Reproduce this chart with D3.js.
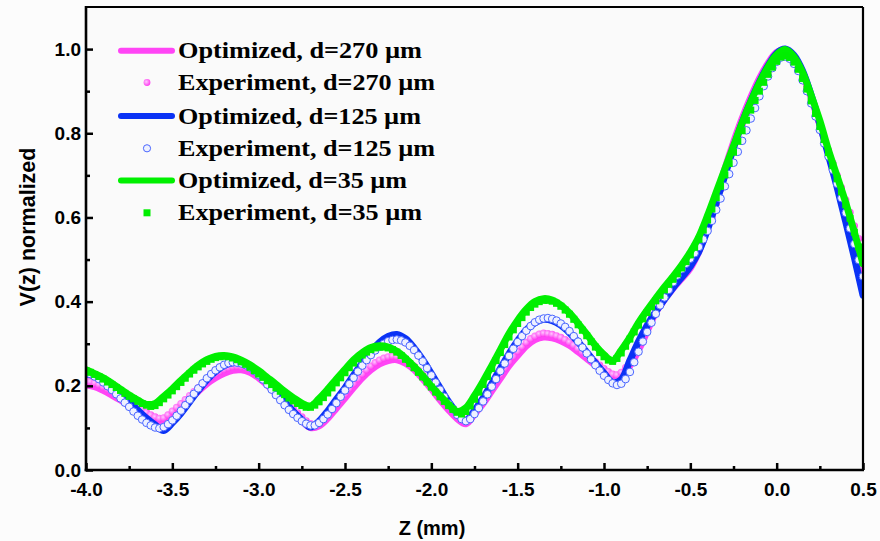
<!DOCTYPE html>
<html>
<head>
<meta charset="utf-8">
<script src="https://cdn.jsdelivr.net/npm/d3@7/dist/d3.min.js"></script>
<style>
  html, body { margin: 0; padding: 0; background: #fcfcfc; }
  svg { display: block; }
</style>
</head>
<body>
<script>
// ---------- data ----------
// optimized curves, sampled every 0.05 mm from -4.0 to 0.5
const optPink = [
  0.202,0.198,0.189,0.178,0.166,0.153,0.140,0.128,0.118,0.116,
  0.132,0.149,0.168,0.187,0.205,0.219,0.230,0.237,0.238,0.232,
  0.219,0.202,0.181,0.159,0.137,0.117,0.101,0.105,0.123,0.147,
  0.171,0.196,0.219,0.238,0.252,0.260,0.262,0.254,0.239,0.217,
  0.193,0.167,0.143,0.122,0.110,0.133,0.158,0.188,0.218,0.248,
  0.272,0.295,0.310,0.316,0.314,0.307,0.296,0.281,0.265,0.249,
  0.234,0.222,0.228,0.248,0.285,0.330,0.375,0.405,0.432,0.455,
  0.480,0.520,0.578,0.645,0.715,0.778,0.835,0.885,0.930,0.966,
  0.992,0.998,0.980,0.940,0.885,0.820,0.755,0.690,0.625,0.555,
  0.475
];
const optBlue = [
  0.228,0.224,0.214,0.199,0.182,0.162,0.142,0.123,0.107,0.094,
  0.112,0.135,0.162,0.189,0.214,0.234,0.248,0.255,0.253,0.244,
  0.229,0.209,0.186,0.162,0.139,0.119,0.102,0.116,0.140,0.168,
  0.195,0.225,0.254,0.281,0.303,0.317,0.322,0.312,0.290,0.262,
  0.229,0.195,0.162,0.135,0.118,0.141,0.171,0.205,0.241,0.276,
  0.307,0.333,0.350,0.358,0.355,0.344,0.326,0.304,0.280,0.254,
  0.230,0.208,0.215,0.260,0.305,0.343,0.376,0.405,0.433,0.458,
  0.484,0.520,0.572,0.635,0.700,0.765,0.825,0.876,0.922,0.960,
  0.990,1.000,0.985,0.948,0.890,0.822,0.748,0.672,0.590,0.505,
  0.415
];
const optGreen = [
  0.238,0.229,0.219,0.206,0.192,0.178,0.166,0.156,0.158,0.175,
  0.193,0.213,0.232,0.249,0.262,0.270,0.272,0.269,0.261,0.250,
  0.236,0.220,0.204,0.187,0.172,0.159,0.152,0.170,0.192,0.216,
  0.239,0.262,0.279,0.291,0.295,0.292,0.282,0.266,0.246,0.224,
  0.199,0.177,0.156,0.139,0.148,0.177,0.211,0.248,0.286,0.324,
  0.356,0.382,0.400,0.407,0.404,0.392,0.373,0.349,0.323,0.296,
  0.274,0.260,0.285,0.315,0.350,0.380,0.408,0.435,0.460,0.487,
  0.518,0.555,0.605,0.660,0.715,0.770,0.825,0.875,0.920,0.958,
  0.987,0.999,0.982,0.945,0.890,0.830,0.760,0.698,0.635,0.565,
  0.490
];

// measured points, every 0.025 mm from -4.0 to 0.5
const expPink = [
  0.212,0.210,0.207,0.203,0.198,0.193,0.187,0.181,0.175,0.168,
  0.162,0.155,0.149,0.143,0.137,0.131,0.126,0.123,0.124,0.131,
  0.140,0.149,0.158,0.167,0.177,0.186,0.196,0.205,0.214,0.221,
  0.228,0.234,0.239,0.243,0.246,0.247,0.246,0.244,0.240,0.235,
  0.228,0.220,0.211,0.201,0.190,0.179,0.168,0.157,0.146,0.136,
  0.126,0.117,0.110,0.106,0.109,0.119,0.130,0.143,0.156,0.168,
  0.180,0.193,0.205,0.217,0.228,0.238,0.247,0.255,0.261,0.266,
  0.269,0.271,0.270,0.267,0.262,0.255,0.247,0.237,0.226,0.214,
  0.202,0.189,0.176,0.164,0.152,0.141,0.131,0.122,0.119,0.128,
  0.141,0.154,0.167,0.182,0.197,0.212,0.227,0.242,0.257,0.270,
  0.282,0.293,0.303,0.312,0.318,0.323,0.325,0.324,0.322,0.319,
  0.315,0.310,0.304,0.297,0.289,0.281,0.273,0.265,0.257,0.249,
  0.241,0.234,0.228,0.226,0.232,0.243,0.258,0.276,0.297,0.319,
  0.341,0.362,0.382,0.399,0.413,0.427,0.440,0.452,0.464,0.476,
  0.489,0.505,0.522,0.545,0.570,0.600,0.632,0.667,0.702,0.734,
  0.764,0.792,0.818,0.844,0.868,0.890,0.911,0.930,0.947,0.962,
  0.974,0.982,0.984,0.978,0.966,0.950,0.930,0.906,0.879,0.850,
  0.820,0.790,0.760,0.730,0.700,0.671,0.642,0.612,0.580,0.550,
  0.520
];
const expBlue = [
  0.230,0.228,0.222,0.216,0.208,0.199,0.190,0.180,0.170,0.160,
  0.150,0.139,0.129,0.120,0.112,0.106,0.101,0.099,0.102,0.109,
  0.118,0.129,0.141,0.154,0.167,0.181,0.194,0.206,0.218,0.228,
  0.237,0.244,0.250,0.254,0.256,0.255,0.253,0.249,0.243,0.235,
  0.226,0.215,0.203,0.191,0.178,0.166,0.154,0.143,0.133,0.124,
  0.116,0.110,0.106,0.106,0.112,0.121,0.132,0.145,0.159,0.174,
  0.189,0.204,0.219,0.234,0.248,0.261,0.273,0.284,0.293,0.300,
  0.306,0.309,0.310,0.308,0.303,0.295,0.285,0.272,0.258,0.242,
  0.225,0.208,0.191,0.174,0.158,0.144,0.131,0.121,0.116,0.121,
  0.133,0.147,0.163,0.180,0.198,0.216,0.235,0.253,0.271,0.288,
  0.304,0.318,0.331,0.342,0.351,0.357,0.360,0.361,0.359,0.355,
  0.348,0.340,0.330,0.318,0.305,0.291,0.277,0.263,0.249,0.236,
  0.224,0.214,0.206,0.202,0.205,0.216,0.233,0.256,0.281,0.305,
  0.328,0.350,0.371,0.391,0.410,0.428,0.446,0.462,0.477,0.490,
  0.502,0.515,0.530,0.548,0.568,0.592,0.618,0.645,0.674,0.703,
  0.730,0.756,0.782,0.807,0.835,0.860,0.888,0.912,0.935,0.955,
  0.970,0.980,0.982,0.977,0.965,0.948,0.926,0.900,0.871,0.840,
  0.808,0.776,0.745,0.713,0.680,0.646,0.611,0.574,0.537,0.499,
  0.460
];
const expGreen = [
  0.236,0.232,0.227,0.222,0.216,0.209,0.203,0.196,0.189,0.182,
  0.175,0.169,0.163,0.158,0.154,0.151,0.153,0.160,0.169,0.178,
  0.188,0.198,0.208,0.218,0.228,0.237,0.245,0.252,0.258,0.263,
  0.267,0.269,0.270,0.269,0.266,0.262,0.257,0.251,0.244,0.236,
  0.228,0.220,0.212,0.203,0.195,0.187,0.179,0.171,0.164,0.158,
  0.153,0.149,0.149,0.154,0.162,0.172,0.183,0.195,0.207,0.219,
  0.231,0.243,0.254,0.264,0.273,0.280,0.286,0.290,0.292,0.292,
  0.290,0.286,0.280,0.272,0.263,0.253,0.243,0.232,0.221,0.209,
  0.197,0.185,0.174,0.163,0.153,0.144,0.137,0.133,0.139,0.152,
  0.168,0.185,0.203,0.222,0.241,0.260,0.279,0.298,0.316,0.333,
  0.348,0.362,0.375,0.386,0.394,0.400,0.403,0.403,0.401,0.396,
  0.389,0.380,0.370,0.358,0.345,0.332,0.319,0.305,0.292,0.279,
  0.269,0.261,0.258,0.265,0.278,0.294,0.311,0.328,0.344,0.359,
  0.374,0.388,0.402,0.415,0.428,0.441,0.453,0.466,0.480,0.495,
  0.511,0.529,0.548,0.570,0.594,0.620,0.647,0.674,0.701,0.728,
  0.755,0.781,0.806,0.831,0.855,0.878,0.900,0.921,0.940,0.957,
  0.971,0.981,0.984,0.980,0.969,0.952,0.930,0.905,0.877,0.847,
  0.816,0.785,0.754,0.723,0.692,0.661,0.630,0.598,0.565,0.530,
  0.494
];

const xTicksMajor = [-4.0,-3.5,-3.0,-2.5,-2.0,-1.5,-1.0,-0.5,0.0,0.5];
const yTicksMajor = [0.0,0.2,0.4,0.6,0.8,1.0];

const legendLabels = [
  "Optimized, d=270 \u00b5m", "Experiment, d=270 \u00b5m",
  "Optimized, d=125 \u00b5m", "Experiment, d=125 \u00b5m",
  "Optimized, d=35 \u00b5m",  "Experiment, d=35 \u00b5m"
];

(function(){
  // ---------- layout ----------
  const W = 880, H = 541;
  const mLeft = 86, mRight = 863, mTop = 7, mBottom = 470;
  const pink = "#ff45f5", blue = "#0a32f5", green = "#00f000";

  const zLine = d3.range(optPink.length).map(i => +(-4 + i * 0.05).toFixed(3));
  const zExp  = d3.range(expPink.length).map(i => +(-4 + i * 0.025).toFixed(3));

  const x = d3.scaleLinear().domain([-4, 0.5]).range([mLeft, mRight]);
  const y = d3.scaleLinear().domain([0, 1.1]).range([mBottom, mTop]);

  const svg = d3.select("body").append("svg")
    .attr("width", W).attr("height", H);

  const defs = svg.append("defs");
  defs.append("clipPath").attr("id", "plotClip")
    .append("rect").attr("x", mLeft).attr("y", mTop)
    .attr("width", mRight - mLeft).attr("height", mBottom - mTop);
  const grad = defs.append("radialGradient").attr("id", "ball")
    .attr("cx", "40%").attr("cy", "40%").attr("r", "60%");
  grad.append("stop").attr("offset", "0%").attr("stop-color", "#ffc8ff");
  grad.append("stop").attr("offset", "100%").attr("stop-color", "#ff3cf0");

  svg.append("rect").attr("x", mLeft).attr("y", mTop)
    .attr("width", mRight - mLeft).attr("height", mBottom - mTop)
    .attr("fill", "#fafafa");

  // ---------- series ----------
  const plot = svg.append("g").attr("clip-path", "url(#plotClip)");
  const line = d3.line().x(d => x(d[0])).y(d => y(d[1])).curve(d3.curveCatmullRom);

  function drawLine(vals, color) {
    plot.append("path")
      .datum(zLine.map((z, i) => [z, vals[i]]))
      .attr("d", line)
      .attr("fill", "none")
      .attr("stroke", color)
      .attr("stroke-width", 7)
      .attr("stroke-linejoin", "round")
      .attr("stroke-linecap", "round");
  }

  function drawDots(vals) {
    plot.append("g").selectAll("circle")
      .data(zExp.map((z, i) => [z, vals[i]]))
      .join("circle")
      .attr("cx", d => x(d[0])).attr("cy", d => y(d[1]))
      .attr("r", 3.6)
      .attr("fill", "url(#ball)");
  }

  function drawRings(vals) {
    plot.append("g").selectAll("circle")
      .data(zExp.map((z, i) => [z, vals[i]]))
      .join("circle")
      .attr("cx", d => x(d[0])).attr("cy", d => y(d[1]))
      .attr("r", 3.8)
      .attr("fill", "#eef1ff")
      .attr("stroke", "#4a66ff")
      .attr("stroke-width", 1);
  }

  function drawSquares(vals) {
    plot.append("g").selectAll("rect")
      .data(zExp.map((z, i) => [z, vals[i]]))
      .join("rect")
      .attr("x", d => x(d[0]) - 3.5).attr("y", d => y(d[1]) - 3.5)
      .attr("width", 7).attr("height", 7)
      .attr("fill", "#00ee00");
  }

  drawLine(optPink, pink);
  drawDots(expPink);
  drawLine(optBlue, blue);
  drawRings(expBlue);
  drawLine(optGreen, green);
  drawSquares(expGreen);

  // ---------- axes ----------
  const fmt = d => d3.format(".1f")(d).replace("\u2212", "-");
  const yMinor = [0.1, 0.3, 0.5, 0.7, 0.9];
  const xMinor = [-3.75, -3.25, -2.75, -2.25, -1.75, -1.25, -0.75, -0.25, 0.25];

  svg.append("g").attr("transform", `translate(${mLeft},0)`)
    .call(d3.axisLeft(y).tickValues(yTicksMajor).tickFormat(fmt).tickSize(-7).tickPadding(5));
  svg.append("g").attr("transform", `translate(${mLeft},0)`)
    .call(d3.axisLeft(y).tickValues(yMinor).tickFormat("").tickSize(-4));

  svg.append("g").attr("transform", `translate(0,${mBottom})`)
    .call(d3.axisBottom(x).tickValues(xTicksMajor).tickFormat(fmt).tickSize(-7).tickPadding(13));
  svg.append("g").attr("transform", `translate(0,${mBottom})`)
    .call(d3.axisBottom(x).tickValues(xMinor).tickFormat("").tickSize(-4));

  svg.selectAll(".domain").remove();
  svg.selectAll(".tick line").attr("stroke", "#000").attr("stroke-width", 2.5);
  svg.selectAll(".tick text")
    .attr("fill", "#000")
    .style("font-family", "'Liberation Sans', Arial, sans-serif")
    .style("font-weight", "bold")
    .style("font-size", "19px");

  // frame
  svg.append("line").attr("x1", mLeft).attr("x2", mRight).attr("y1", mTop).attr("y2", mTop)
    .attr("stroke", "#000").attr("stroke-width", 2);
  svg.append("line").attr("x1", mRight).attr("x2", mRight).attr("y1", mTop).attr("y2", mBottom)
    .attr("stroke", "#000").attr("stroke-width", 2.2);
  svg.append("line").attr("x1", mLeft).attr("x2", mLeft).attr("y1", mTop - 1).attr("y2", mBottom + 1.3)
    .attr("stroke", "#000").attr("stroke-width", 2.6);
  svg.append("line").attr("x1", mLeft - 1.3).attr("x2", mRight + 1).attr("y1", mBottom).attr("y2", mBottom)
    .attr("stroke", "#000").attr("stroke-width", 2.6);

  // axis titles
  svg.append("text")
    .attr("x", 432).attr("y", 535)
    .attr("text-anchor", "middle")
    .style("font-family", "'Liberation Sans', Arial, sans-serif")
    .style("font-weight", "bold").style("font-size", "20px")
    .text("Z (mm)");
  svg.append("text")
    .attr("transform", "translate(35,227) rotate(-90)")
    .attr("text-anchor", "middle")
    .style("font-family", "'Liberation Sans', Arial, sans-serif")
    .style("font-weight", "bold").style("font-size", "21.5px")
    .text("V(z) normalized");

  // ---------- legend ----------
  const legRowY = [50.7, 82.5, 116, 148.3, 180.5, 212.8];
  const legWidths = [244, 257, 243, 257, 229, 244];
  const leg = svg.append("g");

  [[0, pink], [2, blue], [4, green]].forEach(([r, c]) => {
    leg.append("line").attr("x1", 121).attr("x2", 172)
      .attr("y1", legRowY[r]).attr("y2", legRowY[r])
      .attr("stroke", c).attr("stroke-width", 6).attr("stroke-linecap", "round");
  });
  leg.append("circle").attr("cx", 147).attr("cy", legRowY[1]).attr("r", 3.4).attr("fill", "url(#ball)");
  leg.append("circle").attr("cx", 147).attr("cy", legRowY[3]).attr("r", 3.6)
    .attr("fill", "#eef1ff").attr("stroke", "#4a66ff").attr("stroke-width", 1);
  leg.append("rect").attr("x", 143.5).attr("y", legRowY[5] - 3.5).attr("width", 7).attr("height", 7)
    .attr("fill", "#00ee00");

  leg.selectAll("text.lab")
    .data(legendLabels)
    .join("text")
    .attr("class", "lab")
    .attr("x", 178)
    .attr("y", (d, i) => legRowY[i] + 7.6)
    .attr("textLength", (d, i) => legWidths[i])
    .attr("lengthAdjust", "spacingAndGlyphs")
    .style("font-family", "'Liberation Serif', 'Times New Roman', serif")
    .style("font-weight", "bold")
    .style("font-size", "23.5px")
    .text(d => d);
})();
</script>
</body>
</html>
